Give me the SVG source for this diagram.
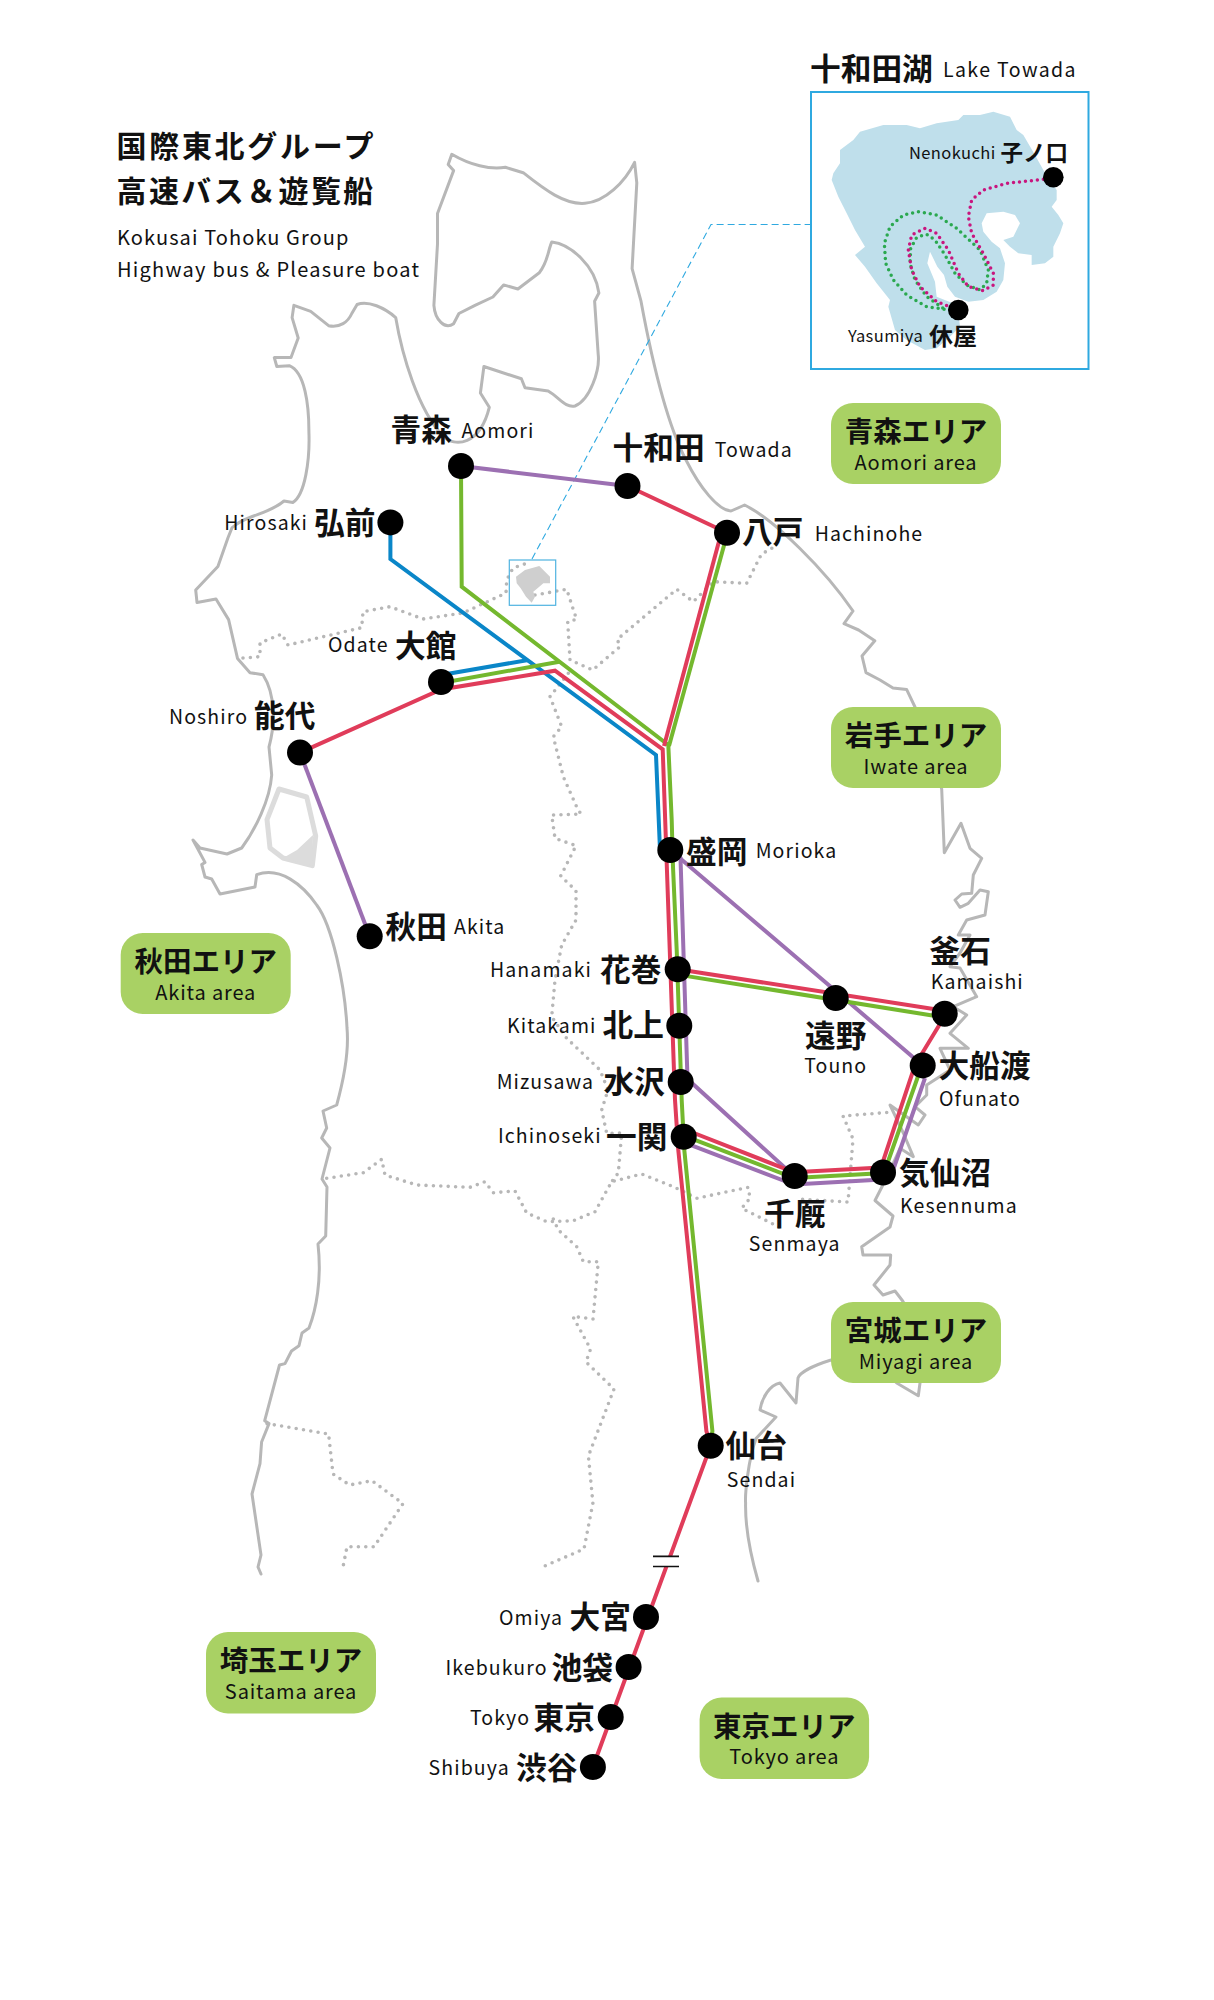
<svg xmlns="http://www.w3.org/2000/svg" width="1214" height="2000" viewBox="0 0 1214 2000">
<style>
text{font-family:"Noto Sans CJK JP","Noto Sans",sans-serif;fill:#111}
.jp{font-size:30.7px;font-weight:700}
.en{font-size:19.5px;letter-spacing:1.1px;font-weight:400}
.c{text-anchor:middle}
.jps{font-size:22.5px;font-weight:700}
.ens{font-size:16.5px;letter-spacing:.4px;font-weight:400}
.bj{font-size:28.5px;font-weight:700;text-anchor:middle}
.be{font-size:20px;letter-spacing:.85px;font-weight:400;text-anchor:middle}
.coast{fill:none;stroke:#b7b7b7;stroke-width:3;stroke-linejoin:round;stroke-linecap:round}
.pref{fill:none;stroke:#b7b7b7;stroke-width:3.6;stroke-linecap:round;stroke-linejoin:round;stroke-dasharray:0 7.4}
.r,.g,.b,.p{fill:none;stroke-width:4;stroke-linejoin:miter}
.r{stroke:#e03c5a}.g{stroke:#74b82e}.b{stroke:#0a86c8}.p{stroke:#9c70b2}
.st{fill:#000}
.badge{fill:#a9d164}
</style>
<defs>
<path id="lake" d="M0 150L40 120L60 95L130 75L200 75L240 85L290 70L355 60L370 45L420 45L460 35L510 50L530 90L550 105L585 165L610 210L650 270L650 300L635 320L655 345L670 370L660 400L640 440L640 470L615 490L575 495L575 465L535 460L510 440L490 420L520 410L540 370L525 345L490 335L440 340L425 370L430 395L455 425L480 445L495 490L490 540L470 575L430 600L385 605L345 590L322 560L312 525L292 500L270 455L262 490L285 545L290 590L335 608L355 640L360 680L330 710L290 745L255 750L200 720L165 690L145 620L150 600L110 550L75 500L45 465L75 440L45 390L20 340L-5 290L-25 240L-20 220L0 190Z"/>
</defs>
<g id="map">
<path class="coast" d="M261 1574L258 1567L261 1555L252 1494L260 1463.6L261.6 1442L269 1423.6L264.7 1420.7L279.5 1365L285 1363.6L291.5 1351L299 1345.7L302 1333L309 1328C316 1310 322 1280 318 1244L325.7 1236L327 1187L322 1179L330 1148L321.7 1138L326.7 1128L323 1111L336.7 1105C345 1075 349 1050 347 1028C345 985 332 925 316.7 905C303 885 280 866 256.7 874.7L255 887L220 894L211.7 879L205 877L201.7 864.5L205 862.4L193 840L200 848L227 854L241.7 848C255 830 270 800 271.7 775L269 747C275 725 276 695 263 674.7L250 672.7L237.5 658.4L228.6 619.6L216 599L197 602.4L195.7 590L217.9 566.5L227.9 538L232 527.8C245 515 268 515 284 501L292.9 502.4C305 495 310 460 308.9 431.8C309 405 305 372 289.3 365.7L276.8 366.5L274.3 357.6L291 357.6L298.2 338L292.1 317.6L293.9 305.3L310.7 311.4L328.6 325.7C340 328 348 322 351.8 313.5L357.1 304.5C368 300 385 308 395.7 317.6C402 355 418 410 442.9 436C455 448 480 445 489.3 407.3L480.4 393L483.9 366.5L521.4 378.8L525 387.8L548.2 391C560 398 565 408 575 406C590 400 600 370 598.2 354.3L594.6 301.2L598.9 293C595 265 570 244 551.8 242C548 250 548 262 539.3 272.7L517.9 289L503.6 284.9L492.9 297L475 305.3L458.9 313.5L453.6 323.7C445 330 435 320 433.9 305.3L437.5 244L437.5 213.5L453.6 170.6L448.2 164.5L451.8 154.3C470 165 490 170 505.4 167.3L523.2 172.7C545 190 565 205 585 203.3C605 202 625 182 634.6 162.4L636.8 182.9L632.1 268.6L641 301.2C650 350 665 420 686 460C700 488 718 510 731 511L744.6 505C775 520 825 570 853 611L844 623.7L858.6 630L874.8 640.8L862 656L866 672.6L880 680L893 688L906.7 689.6L915 707L930 750L941.7 789L944.3 852.7L961 823.3L970 848.3L981.7 858.3L973.3 875L971.7 893.3L961.7 894L955 900L960 907.3L968.3 903.3L980 890L988.3 891.7L985 915L966.7 920L958.3 935L970 935L960 953L950 966.7L960 968L976.7 996.7L953.3 1006.7L966.7 1015L950 1033.3L968.3 1048.3L940 1048.3L950 1070L926.7 1085L926.7 1095L915 1106.7L925 1115L918.3 1125L890 1105L903.3 1133L913.3 1156.7L900 1148.3L886.7 1177.5L875 1200.5L893 1216L890 1227L861.7 1246.7L863 1255L890.7 1255L890 1265L874 1285L883 1295L895 1291L902.7 1301L925 1340L920 1383L918.3 1395.7L896.7 1383L860 1350L831 1360C815 1365 800 1372 798 1378L796 1403L780 1383C770 1385 762 1397 760 1410L776 1417L756 1438.6C748 1460 745 1495 745.6 1503C745 1530 752 1560 758 1581"/>
<path d="M279 789L306.7 797L315.7 836L312.3 865.7L283 858L270 848L267 819.6Z" fill="none" stroke="#dcdcdc" stroke-width="5" stroke-linejoin="round"/>
<path d="M283 858L297 850L313 835L312.3 865.7Z" fill="#dcdcdc"/>
<path class="pref" d="M243 658L260 656.7L260 643L281.7 634L288 645L361.7 627.7L363 611.7L390 606.7L423 619L463 613L506 593L506.7 580L513 568L526.7 563.3"/>
<path class="pref" d="M535 595L566.7 589.3L574 611.7L576.7 619.3L567.7 621.7L570 660L592.7 670L620 646.7L617.3 639.3L676.7 589.3L693.3 601.7L713.3 581.7L746.7 583.3L761.5 554L776 546"/>
<path class="pref" d="M568.3 673.3L550 696.7L561.7 726.7L553.3 736.7L563.3 776.7L577.3 808.3L581 814L551.7 815L555 838.3L576 845.7L560.7 876L576 890.7L576 920L561.7 945L555 980L551.7 1016.7L566.7 1038.3L600 1070L608 1090L601.7 1110L606.7 1133.3L621.7 1133L618.3 1173L611.7 1181.7"/>
<path class="pref" d="M326.7 1178.3L363.3 1172.7L381.7 1159.3L385 1175L416.7 1185L470 1187.3L485 1181.7L493.3 1192.7L515 1191L526.7 1213L546.7 1221.7L573.3 1220.7L595 1211.7L611.7 1181.7L641.7 1174L673.3 1186.7L696.7 1198.3L748.3 1187.3L750 1198.3L741.7 1208.3L783 1229"/>
<path class="pref" d="M886.7 1112.5L843 1116L853 1139L848 1202L796 1199"/>
<path class="pref" d="M553.3 1219L558.3 1230L576.7 1246.7L583.3 1261.7L598.3 1261.7L593 1319L572.8 1316.4L590.6 1349L586 1362L614 1389L588.4 1456L592.9 1503L584 1549L540 1568"/>
<path class="pref" d="M267 1423.6L328.6 1434L333 1474L349.6 1485L371.9 1480.7L403 1503.6L374 1546.8L347 1546.8L343 1567"/>
<path d="M516 576.7L525 570L539.3 566L550 576.7L550 583.3L543.3 583.3L539.3 586.7L533.3 591.7L535 596.7L531.7 602.7L526 596.7L520.7 588.3L516.7 583.3Z" fill="#cfcfcf"/>
<rect x="509.3" y="560" width="46.4" height="45.3" fill="none" stroke="#4fb3e0" stroke-width="1.2"/>
<path d="M532 559L711 224.5L810 224.5" fill="none" stroke="#2fa9e0" stroke-width="1.1" stroke-dasharray="7 4"/>
</g>
<g id="connectors">
<path class="b" d="M390.4 522L390.4 559L656 755L660 850"/>
<path class="b" d="M441 675L528.3 660"/>
<path class="p" d="M461 466L627.5 486"/>
<path class="p" d="M300 752.6L369.7 936.3"/>
<path class="p" d="M670.3 850L835.7 991L922.7 1065.4"/>
<path class="p" d="M670 850L680.5 858L687.5 1079L794 1176"/>
<path class="p" d="M683.7 1142.4L794 1184.5L890 1179L925 1078"/>
<path class="g" d="M461 466L461.7 586.7L668.3 745L671.7 820L673 866.7L676.7 950L681.7 1100L684.3 1150L699.3 1300L712.4 1431L710.7 1445"/>
<path class="g" d="M441 683L559.3 661.7"/>
<path class="g" d="M727.7 532L669 746"/>
<path class="g" d="M677.7 974.6L944.7 1017.5"/>
<path class="g" d="M683.7 1135.6L794 1178L884 1173L922 1065"/>
<path class="r" d="M300 752.6L441 689.5L555 670.7L662.7 749.3L666.7 863L675 1100L678.3 1150L693.3 1300L706.4 1431L710.7 1445.7L592.9 1767"/>
<path class="r" d="M627.5 486L727 532.7"/>
<path class="r" d="M721.5 532L664 746"/>
<path class="r" d="M677.7 969.2L944.7 1010.7"/>
<path class="r" d="M683.7 1129L794 1172.3L881 1167.5L915 1065L946 1014"/>
<rect x="653" y="1557" width="26" height="9" fill="#fff"/>
<path d="M653 1556.4H679M653 1566.5H679" stroke="#111" stroke-width="1.6" fill="none"/>
</g>
<g id="title">
<text x="116.5" y="157" class="jp" style="font-size:30px;letter-spacing:2.7px">国際東北グループ</text>
<text x="116.5" y="201.5" class="jp" style="font-size:30px;letter-spacing:2.4px">高速バス＆遊覧船</text>
<text x="117" y="245" class="en" style="font-size:20px;letter-spacing:1.1px">Kokusai Tohoku Group</text>
<text x="117" y="276.7" class="en" style="font-size:20px;letter-spacing:1.25px">Highway bus &amp; Pleasure boat</text>
</g>
<g id="inset">
<text x="810" y="80" class="jp">十和田湖</text>
<text x="943" y="76.7" class="en" style="letter-spacing:1.4px">Lake Towada</text>
<rect x="811" y="92" width="277.5" height="277" fill="#fff" stroke="#2fa9e0" stroke-width="2"/>
<use href="#lake" transform="translate(840 100) scale(.33333)" fill="#bfdfeb"/>
<g transform="translate(840 100) scale(.33333)" fill="none" stroke-width="10.5" stroke-linecap="round" stroke-dasharray="0 18" stroke-linejoin="round">
<path stroke="#2aa84f" d="M330 630L260 620L200 585L160 540L137 490L133 430L150 380L190 345L235 335L290 345L350 385L420 450L445 510L440 550L420 570L380 555L345 520L315 465L285 420L260 403L230 412L212 445L210 490L225 540L260 590L310 625"/>
<path stroke="#c8157e" d="M610 238L500 250L430 270L395 300L385 350L395 400L430 460L460 520L460 555L430 572L385 560L355 520L325 450L290 400L255 385L215 405L205 450L215 510L240 560L290 605L330 620"/>
</g>
</g>
<g id="node-nenokuchi"><circle class="st" cx="1053.3" cy="177.3" r="10.3"/><text x="909" y="159" class="ens">Nenokuchi</text><text x="1000.5" y="160.5" class="jps">子ノ口</text></g>
<g id="node-yasumiya"><circle class="st" cx="958.3" cy="310" r="10.3"/><text x="848" y="341.7" class="ens">Yasumiya</text><text x="929" y="345" class="jps" style="font-size:24px">休屋</text></g>
<g id="node-aomori"><circle class="st" cx="461" cy="466" r="13"/><text x="390.5" y="441" class="jp">青森</text><text x="461.4" y="438" class="en">Aomori</text></g>
<g id="node-towada"><circle class="st" cx="627.5" cy="486" r="13"/><text x="612.5" y="459" class="jp">十和田</text><text x="714.7" y="457" class="en">Towada</text></g>
<g id="node-hachinohe"><circle class="st" cx="727" cy="532.7" r="13"/><text x="742" y="543" class="jp">八戸</text><text x="814.7" y="541" class="en">Hachinohe</text></g>
<g id="node-hirosaki"><circle class="st" cx="390.4" cy="522.4" r="13"/><text x="314" y="534" class="jp">弘前</text><text x="224.3" y="530" class="en">Hirosaki</text></g>
<g id="node-odate"><circle class="st" cx="441" cy="682" r="13"/><text x="395" y="657" class="jp">大館</text><text x="328" y="652" class="en">Odate</text></g>
<g id="node-noshiro"><circle class="st" cx="300" cy="752.6" r="13"/><text x="254" y="727" class="jp">能代</text><text x="169" y="723.7" class="en">Noshiro</text></g>
<g id="node-akita"><circle class="st" cx="369.7" cy="936.3" r="13"/><text x="385.5" y="938" class="jp">秋田</text><text x="454" y="934" class="en">Akita</text></g>
<g id="node-morioka"><circle class="st" cx="670.3" cy="850" r="13"/><text x="686" y="862.5" class="jp">盛岡</text><text x="755.7" y="858" class="en">Morioka</text></g>
<g id="node-hanamaki"><circle class="st" cx="677.7" cy="969.3" r="13"/><text x="600" y="980.7" class="jp">花巻</text><text x="490" y="976.7" class="en">Hanamaki</text></g>
<g id="node-kitakami"><circle class="st" cx="679.3" cy="1025.7" r="13"/><text x="602.5" y="1036" class="jp">北上</text><text x="507" y="1032.7" class="en">Kitakami</text></g>
<g id="node-mizusawa"><circle class="st" cx="680.7" cy="1082" r="13"/><text x="603.5" y="1093" class="jp">水沢</text><text x="496.7" y="1089" class="en">Mizusawa</text></g>
<g id="node-ichinoseki"><circle class="st" cx="683.7" cy="1136.7" r="13"/><text x="606" y="1148" class="jp">一関</text><text x="498" y="1143" class="en">Ichinoseki</text></g>
<g id="node-touno"><circle class="st" cx="835.7" cy="998" r="13"/><text x="835.7" y="1047" class="jp c">遠野</text><text x="835.7" y="1073" class="en c">Touno</text></g>
<g id="node-kamaishi"><circle class="st" cx="944.7" cy="1013.7" r="13"/><text x="929.5" y="962" class="jp">釜石</text><text x="930.7" y="989" class="en">Kamaishi</text></g>
<g id="node-ofunato"><circle class="st" cx="922.7" cy="1065.4" r="13"/><text x="938.5" y="1077" class="jp">大船渡</text><text x="939" y="1105.6" class="en">Ofunato</text></g>
<g id="node-kesennuma"><circle class="st" cx="883" cy="1172.5" r="13"/><text x="899" y="1184" class="jp">気仙沼</text><text x="900" y="1212.7" class="en">Kesennuma</text></g>
<g id="node-senmaya"><circle class="st" cx="794.7" cy="1176" r="13"/><text x="794.7" y="1224.5" class="jp c">千厩</text><text x="794.7" y="1251" class="en c">Senmaya</text></g>
<g id="node-sendai"><circle class="st" cx="710.7" cy="1445.7" r="13"/><text x="725.5" y="1457" class="jp">仙台</text><text x="726.8" y="1486.8" class="en">Sendai</text></g>
<g id="node-omiya"><circle class="st" cx="646" cy="1617" r="13"/><text x="569.5" y="1628" class="jp">大宮</text><text x="499" y="1625" class="en">Omiya</text></g>
<g id="node-ikebukuro"><circle class="st" cx="628.6" cy="1667" r="13"/><text x="551.5" y="1678.7" class="jp">池袋</text><text x="445.5" y="1675" class="en">Ikebukuro</text></g>
<g id="node-tokyo"><circle class="st" cx="610.7" cy="1717" r="13"/><text x="533.5" y="1728.7" class="jp">東京</text><text x="470" y="1725" class="en">Tokyo</text></g>
<g id="node-shibuya"><circle class="st" cx="592.9" cy="1767" r="13"/><text x="516" y="1778.7" class="jp">渋谷</text><text x="428.6" y="1775" class="en">Shibuya</text></g>
<g id="area-aomori"><rect class="badge" x="831" y="403" width="170" height="81" rx="22"/><text x="916" y="442" class="bj">青森エリア</text><text x="916" y="469.5" class="be">Aomori area</text></g>
<g id="area-iwate"><rect class="badge" x="831" y="707" width="170" height="81" rx="22"/><text x="916" y="746" class="bj">岩手エリア</text><text x="916" y="773.5" class="be">Iwate area</text></g>
<g id="area-miyagi"><rect class="badge" x="831" y="1302" width="170" height="81" rx="22"/><text x="916" y="1341" class="bj">宮城エリア</text><text x="916" y="1368.5" class="be">Miyagi area</text></g>
<g id="area-akita"><rect class="badge" x="120.7" y="933" width="170" height="81" rx="22"/><text x="205.7" y="972" class="bj">秋田エリア</text><text x="205.7" y="999.5" class="be">Akita area</text></g>
<g id="area-saitama"><rect class="badge" x="206" y="1632" width="170" height="81.5" rx="22"/><text x="291" y="1671" class="bj">埼玉エリア</text><text x="291" y="1698.5" class="be">Saitama area</text></g>
<g id="area-tokyo"><rect class="badge" x="699.6" y="1697.5" width="169.5" height="81.5" rx="22"/><text x="784.3" y="1736.5" class="bj">東京エリア</text><text x="784.3" y="1764" class="be">Tokyo area</text></g>
</svg>
